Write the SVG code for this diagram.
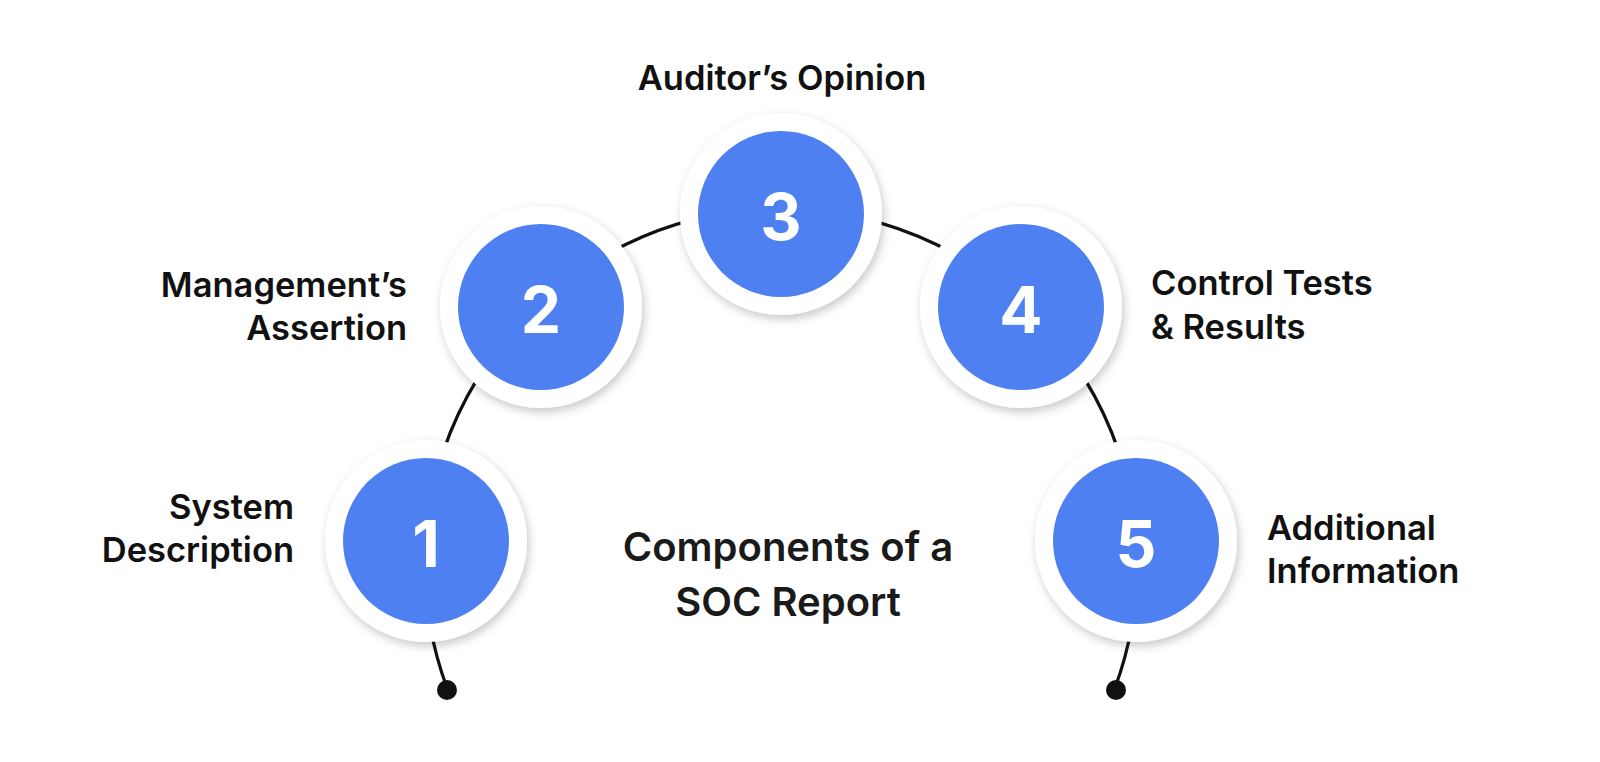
<svg xmlns="http://www.w3.org/2000/svg" width="1600" height="762" viewBox="0 0 1600 762">
<defs>
<filter id="sh" x="-30%" y="-30%" width="160%" height="160%">
<feDropShadow dx="2" dy="4" stdDeviation="5" flood-color="#000" flood-opacity="0.22"/>
</filter>
<style>
.ring{fill:#fff;filter:url(#sh)}
.blue{fill:#4E80F1}
.num{font-family:Inter,"Liberation Sans",sans-serif;font-weight:700;font-size:64px;fill:#fff;text-anchor:middle;dominant-baseline:central}
.lbl{font-family:Inter,"Liberation Sans",sans-serif;font-weight:600;font-size:34.5px;fill:#111}
.title{font-family:Inter,"Liberation Sans",sans-serif;font-weight:600;font-size:40px;fill:#1a1a1a;text-anchor:middle}
.arc{fill:none;stroke:#111;stroke-width:3.2}
</style>
</defs>
<rect width="1600" height="762" fill="#fff"/>
<g id="connectors">
<path class="arc" d="M 447 688 A 356 356 0 1 1 1115 688"/>
<circle cx="447" cy="690" r="10" fill="#111"/>
<circle cx="1116" cy="690" r="10" fill="#111"/>
</g>
<g id="node1">
<circle class="ring" cx="426" cy="541" r="101"/>
<circle class="blue" cx="426" cy="541" r="83"/>
<text class="num" x="426" y="543">1</text>
<text class="lbl" text-anchor="end"><tspan x="294" y="519">System</tspan><tspan x="294" y="562">Description</tspan></text>
</g>
<g id="node2">
<circle class="ring" cx="541" cy="307" r="101"/>
<circle class="blue" cx="541" cy="307" r="83"/>
<text class="num" x="541" y="309">2</text>
<text class="lbl" text-anchor="end"><tspan x="407" y="297">Management’s</tspan><tspan x="407" y="340">Assertion</tspan></text>
</g>
<g id="node3">
<circle class="ring" cx="781" cy="214" r="101"/>
<circle class="blue" cx="781" cy="214" r="83"/>
<text class="num" x="781" y="216">3</text>
<text class="lbl" text-anchor="middle" x="782" y="90">Auditor’s Opinion</text>
</g>
<g id="node4">
<circle class="ring" cx="1021" cy="307" r="101"/>
<circle class="blue" cx="1021" cy="307" r="83"/>
<text class="num" x="1021" y="309">4</text>
<text class="lbl"><tspan x="1151" y="295">Control Tests</tspan><tspan x="1151" y="339">&amp; Results</tspan></text>
</g>
<g id="node5">
<circle class="ring" cx="1136" cy="541" r="101"/>
<circle class="blue" cx="1136" cy="541" r="83"/>
<text class="num" x="1136" y="543">5</text>
<text class="lbl"><tspan x="1267" y="540">Additional</tspan><tspan x="1267" y="583">Information</tspan></text>
</g>
<g id="title">
<text class="title"><tspan x="788" y="561">Components of a</tspan><tspan x="788" y="616">SOC Report</tspan></text>
</g>
</svg>
